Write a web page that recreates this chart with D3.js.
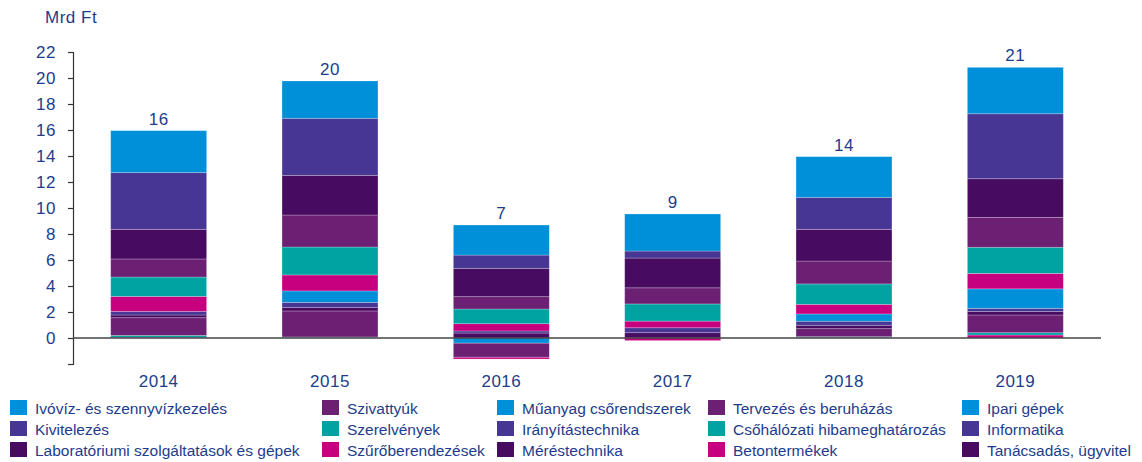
<!DOCTYPE html>
<html><head><meta charset="utf-8">
<script src="https://cdn.jsdelivr.net/npm/d3@7"></script>
<style>
html,body{margin:0;padding:0;background:#fff;}
svg text{font-family:"Liberation Sans",Arial,sans-serif;}
</style></head>
<body><svg id="c" width="1142" height="462"></svg>
<script>
const years = ["2014","2015","2016","2017","2018","2019"];
const totalLabels = ["16","20","7","9","14","21"];
const yTicks = [-2,0,2,4,6,8,10,12,14,16,18,20,22];
const yTickLabels = ["","0","2","4","6","8","10","12","14","16","18","20","22"];
const unitLabel = "Mrd Ft";

const seriesNames = [
  "Ivóvíz- és szennyvízkezelés",
  "Kivitelezés",
  "Laboratóriumi szolgáltatások és gépek",
  "Szivattyúk",
  "Szerelvények",
  "Szűrőberendezések",
  "Műanyag csőrendszerek",
  "Irányítástechnika",
  "Méréstechnika",
  "Tervezés és beruházás",
  "Csőhálózati hibameghatározás",
  "Betontermékek",
  "Ipari gépek",
  "Informatika",
  "Tanácsadás, ügyvitel"
];
const ivoviz        = [3.23, 2.87, 2.31, 2.85, 3.13, 3.57];
const kivitelezes   = [4.36, 4.39, 1.02, 0.54, 2.46, 5.00];
const laboratorium  = [2.28, 3.05, 2.18, 2.29, 2.44, 2.97];
const szivattyuk    = [1.39, 2.46, 0.95, 1.24, 1.76, 2.30];
const szerelvenyek  = [1.49, 2.15, 1.13, 1.32, 1.57, 2.01];
const szurok        = [1.15, 1.23, 0.56, 0.51, 0.74, 1.19];
const muanyag       = [0.00, 0.88, -0.40, 0.00, 0.56, 1.50];
const iranyitas     = [0.28, 0.40, 0.16, 0.38, 0.31, 0.25];
const merestechnika = [0.21, 0.26, 0.38, 0.41, 0.26, 0.26];
const tervezes      = [1.36, 2.00, -1.08, 0.00, 0.62, 1.36];
const csohalozat    = [0.15, 0.05, 0.00, 0.00, 0.07, 0.18];
const beton         = [0.00, 0.00, -0.14, -0.20, 0.00, 0.23];
const iparigepek    = [0.00, 0.00, 0.00, 0.00, 0.00, 0.00];
const informatika   = [0.00, 0.00, 0.00, 0.00, 0.00, 0.00];
const tanacsadas    = [0.05, 0.03, 0.00, 0.00, 0.03, 0.00];
const seriesValues = [ivoviz,kivitelezes,laboratorium,szivattyuk,szerelvenyek,szurok,
  muanyag,iranyitas,merestechnika,tervezes,csohalozat,beton,iparigepek,informatika,tanacsadas];

const palette = ["#0090d9","#483694","#470b61","#6b2074","#00a3a1","#c6007e"];
const color = d3.scaleOrdinal().domain(seriesNames).range(seriesNames.map((_,i)=>palette[i%6]));
const textColor = "#1e3c8c";
const bigFont = "17px";
const bigSpacing = "0.5px";

const rows = years.map((y,i)=>{
  const r = {year:y};
  seriesNames.forEach((s,j)=>r[s]=seriesValues[j][i]);
  return r;
});

const svg = d3.select("#c");
const x = d3.scaleBand().domain(years).range([73,1101]).paddingInner(0.44).paddingOuter(0.22);
const y = d3.scaleLinear().domain([-2,22]).range([364,52]);

const posStack = d3.stack().keys(seriesNames.slice().reverse())
  .value((d,k)=>Math.max(0,d[k]))(rows);
const negStack = d3.stack().keys(seriesNames)
  .value((d,k)=>Math.min(0,d[k])).offset(d3.stackOffsetDiverging)(rows);

const g = svg.append("g");
[...posStack, ...negStack].forEach(layer=>{
  g.selectAll(null).data(layer.filter(d=>Math.abs(d[1]-d[0])>1e-9)).enter().append("rect")
    .attr("x",d=>x(d.data.year))
    .attr("width",x.bandwidth())
    .attr("y",d=>y(Math.max(d[0],d[1])))
    .attr("height",d=>Math.abs(y(d[0])-y(d[1])))
    .attr("fill",color(layer.key))
    .attr("stroke","rgba(255,255,255,0.3)")
    .attr("stroke-width",0.8);
});

// totals labels
const posTop = years.map((yr,i)=>d3.max(posStack,l=>l[i][1]));
svg.append("g").selectAll("text").data(years).enter().append("text")
  .attr("x",d=>x(d)+x.bandwidth()/2)
  .attr("y",(d,i)=>y(posTop[i])-6)
  .attr("text-anchor","middle")
  .attr("fill",textColor).attr("font-size",bigFont).attr("letter-spacing",bigSpacing)
  .text((d,i)=>totalLabels[i]);

// y axis
const yAxis = d3.axisLeft(y).tickValues(yTicks).tickSize(5).tickPadding(12)
  .tickFormat((d,i)=>yTickLabels[i]);
const ya = svg.append("g").attr("transform","translate(73,0)").call(yAxis);
ya.select(".domain").attr("stroke","#333").attr("stroke-width",1.2);
ya.selectAll(".tick line").attr("stroke","#333").attr("stroke-width",1.2);
ya.selectAll(".tick text").attr("fill",textColor).attr("font-size",bigFont)
  .attr("letter-spacing",bigSpacing)
  .attr("font-family","Liberation Sans, Arial, sans-serif");

// zero line
svg.append("line").attr("x1",73).attr("x2",1101).attr("y1",y(0)).attr("y2",y(0))
  .attr("stroke","#444").attr("stroke-width",1.5);

// category labels
const xAxis = d3.axisBottom(x).tickSize(0).tickPadding(0);
const xa = svg.append("g").attr("transform","translate(0,375)").call(xAxis);
xa.select(".domain").remove();
xa.selectAll(".tick text").attr("fill",textColor).attr("font-size",bigFont)
  .attr("letter-spacing",bigSpacing)
  .attr("font-family","Liberation Sans, Arial, sans-serif");

svg.append("text").attr("x",45).attr("y",23).attr("fill",textColor)
  .attr("font-size",bigFont).attr("letter-spacing",bigSpacing).text(unitLabel);

// legend
const colX = [10,322,497,708,962];
const rowY = [408,429,450];
const leg = svg.append("g");
seriesNames.forEach((s,i)=>{
  const c = Math.floor(i/3), r = i%3;
  leg.append("rect").attr("x",colX[c]).attr("y",rowY[r]-8).attr("width",17).attr("height",15)
    .attr("fill",color(s));
  leg.append("text").attr("x",colX[c]+25).attr("y",rowY[r]+5.5).attr("fill",textColor)
    .attr("font-size","15.5px").text(s);
});
</script></body></html>
